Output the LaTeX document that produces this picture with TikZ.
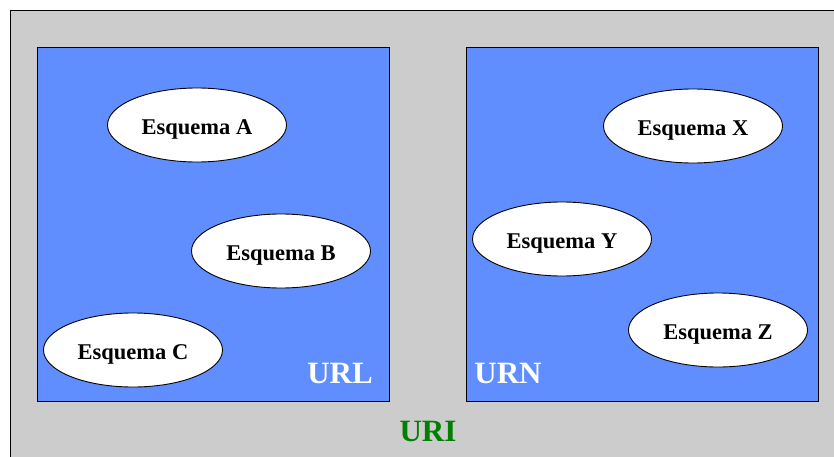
\documentclass[tikz,border=0pt]{standalone}
\usepackage{fontspec}
\setmainfont{Liberation Serif}
\usetikzlibrary{shapes.geometric}
\definecolor{urigray}{RGB}{204,204,204}
\definecolor{urlblue}{RGB}{96,142,255}
\definecolor{urigreen}{RGB}{0,128,0}
\begin{document}
\begin{tikzpicture}[x=1pt,y=-1pt,
    esquema/.style={draw,ellipse,fill=white,line width=0.9pt,inner sep=0pt,
      text height=19pt,text depth=0pt,
      minimum width=179pt,minimum height=74pt,font=\fontsize{22.5}{24}\selectfont\bfseries},
    caja/.style={draw,fill=urlblue,line width=0.8pt},
    rotulo/.style={font=\fontsize{31}{34}\selectfont\bfseries}]
    \useasboundingbox (0,0) rectangle (834,457);
    % fondo URI
    \draw[fill=urigray,line width=0.8pt] (10,10) rectangle (860,480);
    % las dos cajas
    \draw[caja] (37,47) rectangle (389,401);
    \draw[caja] (466,47) rectangle (818,401);
    % esquemas
    \foreach \name/\x/\y/\txt in {A/197/125/Esquema A, B/281/251/Esquema B,
        C/133/350/Esquema C, X/693/126/Esquema X, Y/562/239/Esquema Y,
        Z/718/330/Esquema Z}{
        \node[esquema] (E-\name) at (\x,\y) {\txt};
      }
    \node[rotulo,text=white] (url) at (340,373) {URL};
    \node[rotulo,text=white] (urn) at (508,373) {URN};
    \node[rotulo,text=urigreen] (uri) at (428,431) {URI};
  \end{tikzpicture}
\end{document}
